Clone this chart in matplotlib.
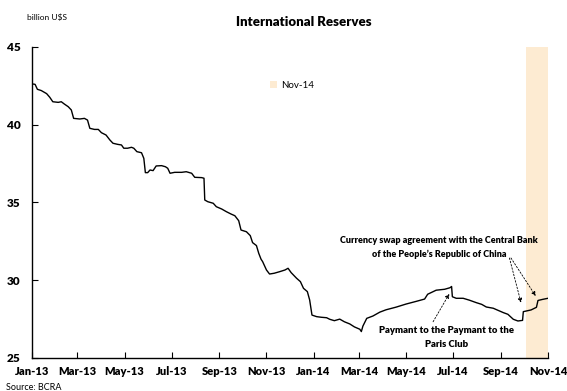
import matplotlib
matplotlib.use("Agg")
from matplotlib import pyplot as plt
import matplotlib.dates as mdates
import pandas as pd

plt.rcParams["font.family"] = ["Lato", "DejaVu Sans"]

# International reserves, billion U$S (BCRA)
dates = [
    "2013-01-02", "2013-01-05", "2013-01-08", "2013-01-13", "2013-01-20", "2013-01-24",
    "2013-01-28", "2013-02-04", "2013-02-08", "2013-02-12", "2013-02-17", "2013-02-21",
    "2013-02-24", "2013-03-04", "2013-03-10", "2013-03-14", "2013-03-17", "2013-03-23",
    "2013-03-28", "2013-04-01", "2013-04-07", "2013-04-12", "2013-04-16", "2013-04-22",
    "2013-04-27", "2013-04-30", "2013-05-05", "2013-05-10", "2013-05-13", "2013-05-17",
    "2013-05-23", "2013-05-26", "2013-05-28", "2013-05-31", "2013-06-03", "2013-06-07",
    "2013-06-11", "2013-06-18", "2013-06-23", "2013-06-26", "2013-06-29", "2013-07-05",
    "2013-07-14", "2013-07-20", "2013-07-27", "2013-07-31", "2013-08-09", "2013-08-12",
    "2013-08-13", "2013-08-17", "2013-08-24", "2013-08-28", "2013-09-04", "2013-09-10",
    "2013-09-16", "2013-09-21", "2013-09-26", "2013-09-29", "2013-10-06", "2013-10-11",
    "2013-10-14", "2013-10-19", "2013-10-22", "2013-10-25", "2013-10-27", "2013-11-01",
    "2013-11-05", "2013-11-11", "2013-11-18", "2013-11-25", "2013-11-29", "2013-12-03",
    "2013-12-10", "2013-12-15", "2013-12-19", "2013-12-24", "2013-12-27", "2013-12-30",
    "2014-01-05", "2014-01-11", "2014-01-18", "2014-01-22", "2014-01-28", "2014-02-04",
    "2014-02-10", "2014-02-17", "2014-02-23", "2014-03-02", "2014-03-04", "2014-03-06",
    "2014-03-11", "2014-03-19", "2014-03-28", "2014-04-05", "2014-04-18", "2014-05-01",
    "2014-05-14", "2014-05-25", "2014-05-29", "2014-06-09", "2014-06-20", "2014-06-27",
    "2014-06-29", "2014-06-30", "2014-07-05", "2014-07-14", "2014-07-22", "2014-07-31",
    "2014-08-07", "2014-08-13", "2014-08-22", "2014-08-28", "2014-09-04", "2014-09-10",
    "2014-09-17", "2014-09-23", "2014-09-29", "2014-09-30", "2014-10-10", "2014-10-17",
    "2014-10-19", "2014-10-25", "2014-11-01",
]
reserves = [
    42.62, 42.60, 42.28, 42.20, 42.00, 41.77,
    41.48, 41.44, 41.48, 41.33, 41.16, 40.95,
    40.41, 40.37, 40.41, 40.30, 39.77, 39.70,
    39.70, 39.49, 39.34, 39.02, 38.81, 38.74,
    38.70, 38.49, 38.49, 38.55, 38.49, 38.27,
    38.20, 37.84, 36.92, 36.92, 37.09, 37.05,
    37.35, 37.37, 37.30, 37.20, 36.88, 36.94,
    36.94, 36.98, 36.88, 36.62, 36.60, 36.56,
    35.16, 35.05, 34.95, 34.73, 34.58, 34.41,
    34.26, 34.15, 33.83, 33.23, 33.12, 32.87,
    32.42, 32.23, 31.73, 31.35, 31.20, 30.66,
    30.40, 30.45, 30.55, 30.66, 30.77, 30.49,
    30.13, 29.91, 29.48, 29.27, 28.73, 27.76,
    27.66, 27.62, 27.59, 27.49, 27.40, 27.50,
    27.33, 27.19, 27.00, 26.85, 26.70, 27.05,
    27.55, 27.70, 27.95, 28.10, 28.27, 28.47,
    28.64, 28.79, 29.10, 29.36, 29.42, 29.52,
    29.60, 28.94, 28.84, 28.84, 28.72, 28.56,
    28.45, 28.28, 28.20, 28.07, 27.92, 27.81,
    27.49, 27.38, 27.42, 27.98, 28.09, 28.26,
    28.70, 28.77, 28.84,
]

shade_start = "2014-10-03"
shade_end = "2014-11-01"
shade_label = "Nov-14"
shade_color = "#fdebd2"

x = pd.to_datetime(dates)

fig = plt.figure(figsize=(5.67, 3.91), dpi=100)
ax = fig.add_axes([0.0564, 0.0844, 0.9101, 0.7954])

ax.axvspan(pd.Timestamp(shade_start), pd.Timestamp(shade_end), color=shade_color,
           lw=0, label=shade_label, zorder=0)
ax.plot(x, reserves, color="black", lw=1.0, zorder=2)

ax.set_ylim(25, 45)
ax.set_yticks([25, 30, 35, 40, 45])
ax.set_xlim(pd.Timestamp("2013-01-01"), pd.Timestamp("2014-11-01"))
ax.xaxis.set_major_locator(mdates.MonthLocator(bymonth=[1, 3, 5, 7, 9, 11]))
ax.xaxis.set_major_formatter(mdates.DateFormatter("%b-%y"))

for s in ["top", "right"]:
    ax.spines[s].set_visible(False)
ax.spines["left"].set_linewidth(1.0)
ax.spines["bottom"].set_linewidth(1.0)
ax.tick_params(axis="both", direction="in", length=4, width=0.8)
ax.tick_params(axis="y", labelsize=8.5, pad=8)
ax.tick_params(axis="x", labelsize=8, pad=6)
for lab in ax.get_xticklabels() + ax.get_yticklabels():
    lab.set_fontweight("heavy")

leg = ax.legend(loc="upper left", bbox_to_anchor=(0.445, 0.92), frameon=False,
                fontsize=7, handlelength=0.7, handleheight=0.7, handletextpad=0.4)

fig.text(0.535, 0.945, "International Reserves", ha="center", va="center",
         fontsize=9.5, fontweight="heavy")
fig.text(0.048, 0.957, "billion U$S", ha="left", va="center", fontsize=6)
fig.text(0.01, 0.01, "Source: BCRA", ha="left", va="center", fontsize=6.5)

# event notes
ax.text(pd.Timestamp("2014-06-13"), 32.1,
        "Currency swap agreement with the Central Bank\nof the People\u2019s Republic of China",
        ha="center", va="center", fontsize=6.5, fontweight="heavy", linespacing=1.6)
ax.text(pd.Timestamp("2014-06-22"), 26.32, "Paymant to the Paymant to the\nParis Club",
        ha="center", va="center", fontsize=6.8, fontweight="heavy", linespacing=1.6)

arrow = dict(arrowstyle="-|>", linestyle=(0, (2, 2)), lw=0.6, color="black",
             mutation_scale=6, shrinkA=0, shrinkB=0)
ax.annotate("", xy=(pd.Timestamp("2014-09-27"), 28.56),
            xytext=(pd.Timestamp("2014-09-12"), 31.43), arrowprops=arrow)
ax.annotate("", xy=(pd.Timestamp("2014-10-16"), 28.99),
            xytext=(pd.Timestamp("2014-09-14"), 31.43), arrowprops=arrow)
ax.annotate("", xy=(pd.Timestamp("2014-06-26"), 29.12),
            xytext=(pd.Timestamp("2014-06-05"), 27.33), arrowprops=arrow)

fig.savefig("out.png", dpi=100)
